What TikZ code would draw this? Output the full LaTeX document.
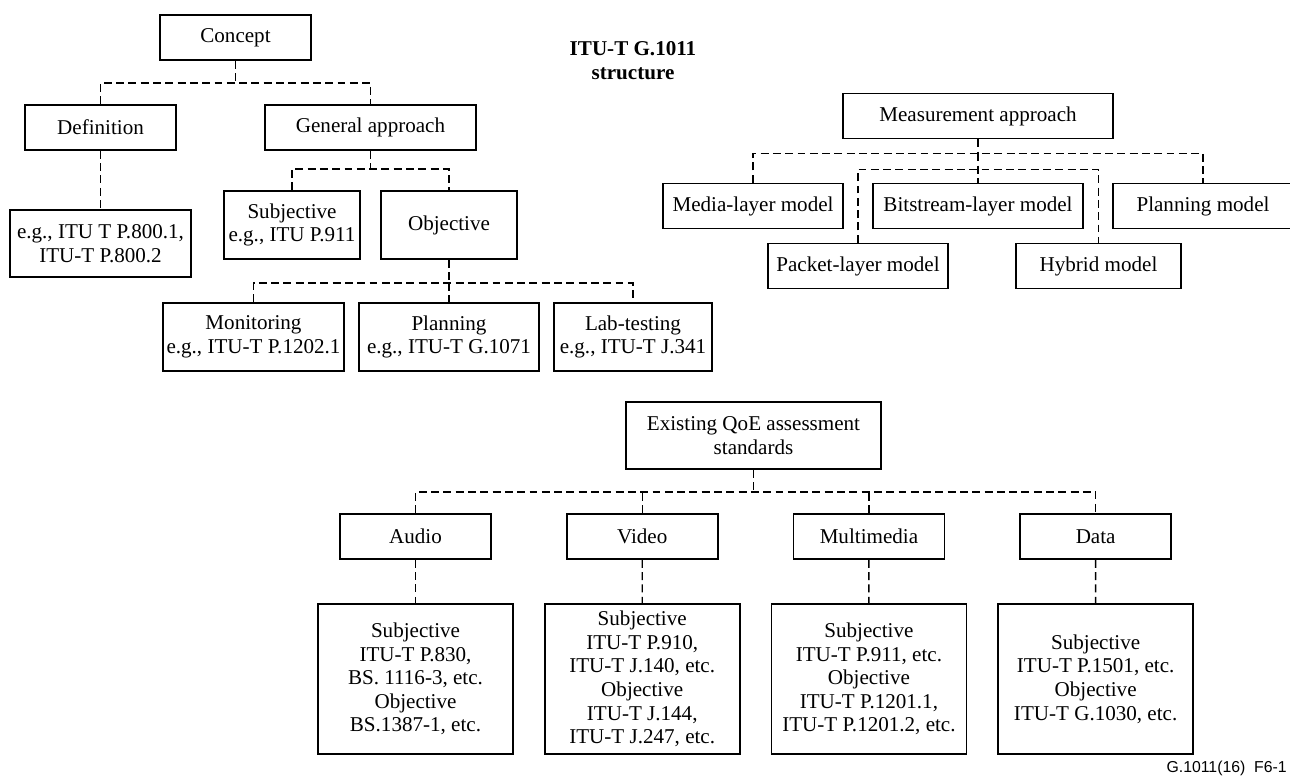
\documentclass[tikz,border=0pt]{standalone}
\usepackage{fontspec}
\setmainfont{Liberation Serif}
\newfontfamily\labelfont{Liberation Sans}
\usetikzlibrary{positioning}
\tikzset{
    mybox/.style={rectangle, draw=black, line width=1pt, minimum height=0.9cm, inner sep=2pt, align=center, font=\fontsize{12}{13.4}\selectfont},
    mydash/.style={draw=black, line width=0.8pt, dash pattern=on 4.5pt off 2.5pt},
    mytitle/.style={align=center, font=\fontsize{12}{13.7}\selectfont\bfseries}
}

\begin{document}
\begin{tikzpicture}[x=0.02cm, y=-0.02cm]
\clip (0,0) rectangle (1290,777);

% concept tree
\node[mybox, minimum width=3.02cm] (concept) at (235.5,37.5) {Concept};
\node[mybox, minimum width=3.02cm] (definition) at (100.5,127.5) {Definition};
\node[mybox, minimum width=4.22cm] (general) at (370.5,127.5) {General approach};
\node[mybox, minimum width=3.62cm, minimum height=1.34cm] (egdef) at (100.5,243.5) {e.g., ITU T P.800.1,\\ITU-T P.800.2};
\node[mybox, minimum width=2.72cm, minimum height=1.36cm] (subjective) at (292,225) {Subjective\\e.g., ITU P.911};
\node[mybox, minimum width=2.72cm, minimum height=1.36cm] (objective) at (449,225) {Objective};
\node[mybox, minimum width=3.62cm, minimum height=1.36cm] (monitoring) at (253.5,337) {Monitoring\\e.g., ITU-T P.1202.1};
\node[mybox, minimum width=3.6cm, minimum height=1.36cm] (planning) at (449,337) {Planning\\e.g., ITU-T G.1071};
\node[mybox, minimum width=3.16cm, minimum height=1.36cm] (labtest) at (633,337) {Lab-testing\\e.g., ITU-T J.341};

\node[mytitle] (title) at (633,61) {ITU-T G.1011\\structure};

\draw[mydash] (concept.south) -- ++(0,22) coordinate (c1);
\draw[mydash] (definition.north) |- (c1) -| (general.north);
\draw[mydash] (definition.south) -- (egdef.north);
\draw[mydash] (general.south) -- ++(0,18) coordinate (g1);
\draw[mydash] (subjective.north) |- (g1) -| (objective.north);
\draw[mydash] (objective.south) -- ++(0,23) coordinate (o1);
\draw[mydash] (o1) -- (planning.north);
\draw[mydash] (monitoring.north) |- (o1) -| (labtest.north);

% measurement approach
\node[mybox, minimum width=5.4cm] (measure) at (978,116) {Measurement approach};
\node[mybox, minimum width=3.6cm] (media) at (753,206) {Media-layer model};
\node[mybox, minimum width=4.2cm] (bitstream) at (978,206) {Bitstream-layer model};
\node[mybox, minimum width=3.6cm] (planmodel) at (1203,206) {Planning model};
\node[mybox, minimum width=3.6cm] (packet) at (858,266) {Packet-layer model};
\node[mybox, minimum width=3.3cm] (hybrid) at (1098.5,266) {Hybrid model};

\draw[mydash] (measure.south) -- ++(0,14) coordinate (m1);
\draw[mydash] (m1) -- (bitstream.north);
\draw[mydash] (media.north) |- (m1) -| (planmodel.north);
\path (measure.south) ++(0,30) coordinate (m2);
\draw[mydash] (packet.north) |- (m2) -| (hybrid.north);

% existing standards
\node[mybox, minimum width=5.1cm, minimum height=1.34cm] (qoe) at (753.5,435.5) {Existing QoE assessment\\standards};
\node[mybox, minimum width=3.02cm] (audio) at (415.5,536.5) {Audio};
\node[mybox, minimum width=3.02cm, right=1.48cm of audio] (video) {Video};
\node[mybox, minimum width=3.02cm, right=1.48cm of video] (multimedia) {Multimedia};
\node[mybox, minimum width=3.02cm, right=1.48cm of multimedia] (data) {Data};

\node[mybox, minimum width=3.9cm, minimum height=3cm] (audiores) at (415.5,679) {Subjective\\ITU-T P.830,\\BS. 1116-3, etc.\\Objective\\BS.1387-1, etc.};
\node[mybox, minimum width=3.9cm, minimum height=3cm, right=0.6cm of audiores] (videores) {Subjective\\ITU-T P.910,\\ITU-T J.140, etc.\\Objective\\ITU-T J.144,\\ITU-T J.247, etc.};
\node[mybox, minimum width=3.9cm, minimum height=3cm, right=0.6cm of videores] (multires) {Subjective\\ITU-T P.911, etc.\\Objective\\ITU-T P.1201.1,\\ITU-T P.1201.2, etc.};
\node[mybox, minimum width=3.9cm, minimum height=3cm, right=0.6cm of multires] (datares) {Subjective\\ITU-T P.1501, etc.\\Objective\\ITU-T G.1030, etc.};

\draw[mydash] (qoe.south) -- ++(0,22) coordinate (q1);
\draw[mydash] (audio.north) |- (q1) -| (data.north);
\draw[mydash] (video.north) -- (video.north |- q1);
\draw[mydash] (multimedia.north) -- (multimedia.north |- q1);
\draw[mydash] (audio.south) -- (audiores.north);
\draw[mydash] (video.south) -- (videores.north);
\draw[mydash] (multimedia.south) -- (multires.north);
\draw[mydash] (data.south) -- (datares.north);

\node[anchor=base east, inner sep=0pt, font=\labelfont\fontsize{9}{10}\selectfont] (figlabel) at (1287,772) {G.1011(16)~~F6-1};
\end{tikzpicture}
\end{document}
